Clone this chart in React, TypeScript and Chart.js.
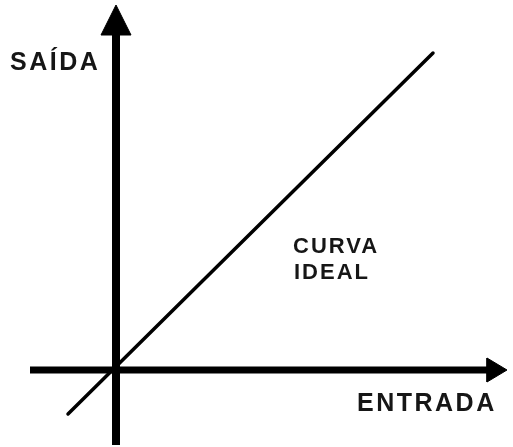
import React, { useEffect, useRef } from "react";
import { Chart, registerables } from "chart.js";

Chart.register(...registerables);

// Data (units: origin at the axes' crossing)
const idealCurve = [
  { x: -48, y: -44 },
  { x: 317, y: 317 },
];
const xAxisShaft = [
  { x: -86, y: 0 },
  { x: 373, y: 0 },
];
const yAxisShaft = [
  { x: 0, y: -75 },
  { x: 0, y: 337 },
];
const xArrowHead = [
  { x: 371, y: -12 },
  { x: 391, y: 0 },
  { x: 371, y: 12 },
  { x: 371, y: -12 },
];
const yArrowHead = [
  { x: -15, y: 335 },
  { x: 0, y: 365 },
  { x: 15, y: 335 },
  { x: -15, y: 335 },
];
const axisLabels = ["SAÍDA", "ENTRADA"];
const curveLabel = ["CURVA", "IDEAL"];

const textPlugin = {
  id: "textLabels",
  afterDatasetsDraw(chart: any) {
    const { ctx, scales } = chart;
    const px = (v: number) => scales.x.getPixelForValue(v);
    const py = (v: number) => scales.y.getPixelForValue(v);
    ctx.save();
    ctx.fillStyle = "#161616";
    ctx.textAlign = "left";
    ctx.textBaseline = "alphabetic";
    ctx.font = "bold 25px 'Liberation Sans', Arial, sans-serif";
    (ctx as any).letterSpacing = "2.5px";
    ctx.fillText(axisLabels[0], px(-106), py(300.5));
    ctx.fillText(axisLabels[1], px(241), py(-41));
    ctx.font = "bold 22px 'Liberation Sans', Arial, sans-serif";
    (ctx as any).letterSpacing = "2px";
    ctx.fillText(curveLabel[0], px(177), py(117));
    ctx.fillText(curveLabel[1], px(178), py(91));
    ctx.restore();
  },
};

export default function App() {
  const ref = useRef<HTMLCanvasElement | null>(null);
  useEffect(() => {
    if (!ref.current) return;
    const lineDs = (data: any[], width: number, cap: string) => ({
      data,
      showLine: true,
      borderColor: "#000",
      borderWidth: width,
      borderCapStyle: cap,
      pointRadius: 0,
      fill: false,
    });
    const headDs = (data: any[]) => ({
      data,
      showLine: true,
      borderColor: "#000",
      borderWidth: 1,
      backgroundColor: "#000",
      pointRadius: 0,
      fill: "shape",
    });
    const chart = new Chart(ref.current, {
      type: "scatter",
      data: {
        datasets: [
          lineDs(xAxisShaft, 7, "butt"),
          lineDs(yAxisShaft, 8, "butt"),
          headDs(xArrowHead),
          headDs(yArrowHead),
          lineDs(idealCurve, 3.5, "round"),
        ] as any,
      },
      options: {
        animation: false,
        responsive: true,
        maintainAspectRatio: false,
        layout: { padding: 0 },
        plugins: { legend: { display: false }, tooltip: { enabled: false }, title: { display: false } },
        scales: {
          x: { type: "linear", min: -116, max: 397, display: false },
          y: { type: "linear", min: -77, max: 370, display: false },
        },
      },
      plugins: [textPlugin],
    });
    return () => chart.destroy();
  }, []);
  return (
    <div style={{ position: "fixed", left: 0, top: 0, width: 513, height: 447, background: "#fff" }}>
      <canvas ref={ref} />
    </div>
  );
}
